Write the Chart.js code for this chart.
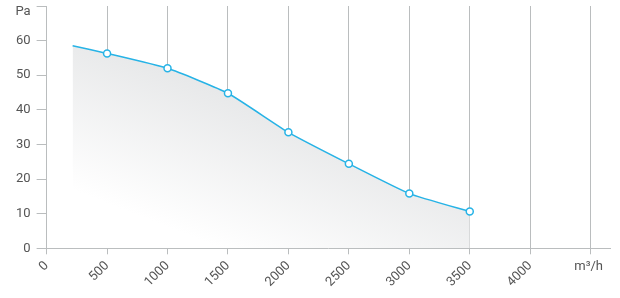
<!DOCTYPE html>
<html>
<head>
<meta charset="utf-8">
<script src="https://cdn.jsdelivr.net/npm/chart.js@4"></script>
<style>
html,body{margin:0;padding:0;background:#fff;}
#wrap{width:620px;height:298px;position:relative;}
</style>
</head>
<body>
<div id="wrap"><canvas id="c"></canvas></div>
<script>
const airflow = [215, 500, 1000, 1500, 2000, 2500, 3000, 3500];
const pressure = [58.5, 56.3, 52.0, 44.8, 33.5, 24.4, 15.8, 10.6];
const markerRadius = [0, 3.5, 3.5, 3.5, 3.5, 3.5, 3.5, 3.5];
const xTickValues = [0, 500, 1000, 1500, 2000, 2500, 3000, 3500, 4000, 4500];
const yTickValues = [0, 10, 20, 30, 40, 50, 60, 70];
const xUnit = 'm³/h';
const yUnit = 'Pa';

const textColor = '#555';
const gridColor = '#babdbe';
const font = { family: 'Roboto', size: 13 };

const unitLabels = {
  id: 'unitLabels',
  afterDraw(chart) {
    const ctx = chart.ctx;
    const xs = chart.scales.x, ys = chart.scales.y;
    ctx.save();
    ctx.fillStyle = textColor;
    ctx.font = '13px Roboto';
    ctx.textBaseline = 'middle';
    ctx.textAlign = 'right';
    ctx.fillText(yUnit, ys.right - 16, ys.getPixelForValue(70) + 6);
    ctx.textAlign = 'center';
    ctx.fillText(xUnit, xs.getPixelForValue(4500) - 2, xs.top + 18);
    ctx.restore();
  }
};

new Chart(document.getElementById('c'), {
  type: 'line',
  data: {
    datasets: [{
      data: airflow.map((x, i) => ({ x, y: pressure[i] })),
      borderColor: '#27b3e6',
      borderWidth: 1.5,
      pointRadius: markerRadius,
      pointHoverRadius: markerRadius,
      pointBackgroundColor: '#fff',
      pointBorderColor: '#27b3e6',
      pointBorderWidth: 1.5,
      tension: 0.15,
      fill: 'origin',
      backgroundColor(context) {
        const chart = context.chart;
        const a = chart.chartArea;
        if (!a) return 'rgba(0,0,0,0)';
        const x0 = a.left, y0 = a.top + 12;
        const g = chart.ctx.createLinearGradient(x0, y0, x0 - 55, y0 + 140);
        g.addColorStop(0, 'rgba(231,232,233,1)');
        g.addColorStop(1, 'rgba(255,255,255,1)');
        return g;
      }
    }]
  },
  options: {
    responsive: true,
    maintainAspectRatio: false,
    animation: false,
    layout: { padding: { top: 0, right: 10, left: 10, bottom: 4 } },
    plugins: { legend: { display: false }, tooltip: { enabled: false } },
    scales: {
      x: {
        type: 'linear',
        min: 0,
        max: 4660,
        afterBuildTicks(scale) { scale.ticks = xTickValues.map(v => ({ value: v })); },
        ticks: {
          color: textColor,
          font,
          minRotation: 45,
          maxRotation: 45,
          autoSkip: false,
          padding: 4,
          callback: (v) => (v === 4500 ? '' : String(v))
        },
        grid: { color: gridColor, tickColor: gridColor, tickLength: 6, lineWidth: 1 },
        border: { color: gridColor }
      },
      y: {
        min: 0,
        max: 70,
        afterBuildTicks(scale) { scale.ticks = yTickValues.map(v => ({ value: v })); },
        afterFit(scale) { scale.paddingTop = 6; },
        ticks: {
          color: textColor,
          font,
          padding: 6,
          callback: (v) => (v === 70 ? '' : String(v))
        },
        grid: { drawOnChartArea: false, tickColor: gridColor, tickLength: 10 },
        border: { color: gridColor }
      }
    }
  },
  plugins: [unitLabels]
});
</script>
</body>
</html>
